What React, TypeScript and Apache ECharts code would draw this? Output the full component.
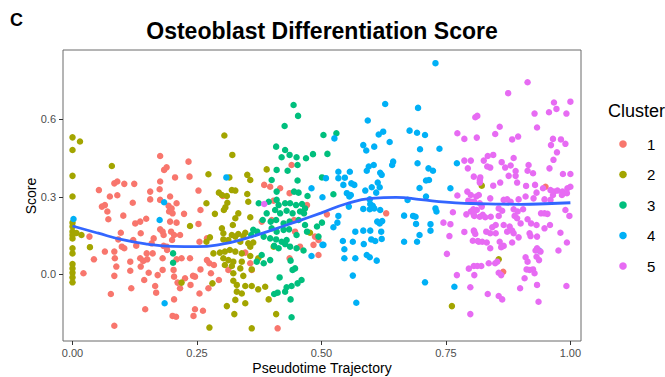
import React, { useEffect, useRef } from "react";
import * as echarts from "echarts";

// Cluster identities and the ggplot-style hue palette used for them
const clusterNames = ["1", "2", "3", "4", "5"];
const clusterColors = ["#F8766D", "#A3A500", "#00BF7D", "#00B0F6", "#E76BF3"];

// [pseudotime, score] per cell, grouped by cluster
const cluster1 = [
  [0.022, 0.004], [0.034, 0.146], [0.043, 0.058], [0.053, 0.326], [0.059, 0.262], [0.065, 0.268],
  [0.07, 0.243], [0.072, 0.213], [0.075, 0.301], [0.065, 0.088], [0.077, -0.076], [0.084, 0.352],
  [0.09, 0.359], [0.09, 0.306], [0.084, 0.088], [0.085, 0.062], [0.088, 0.03], [0.084, -0.006],
  [0.084, -0.199], [0.097, 0.161], [0.092, 0.135], [0.099, 0.107], [0.104, 0.35], [0.104, 0.101],
  [0.102, 0.227], [0.116, 0.049], [0.116, 0.014], [0.118, -0.054], [0.124, 0.35], [0.121, 0.277],
  [0.126, 0.197], [0.122, 0.133], [0.128, 0.111], [0.136, 0.204], [0.137, 0.159], [0.136, 0.062],
  [0.137, 0.03], [0.142, 0.052], [0.144, -0.022], [0.146, -0.135], [0.148, 0.215], [0.149, 0.081],
  [0.15, 0.058], [0.156, 0.32], [0.156, 0.29], [0.153, 0.006], [0.159, 0.12], [0.163, 0.139],
  [0.161, 0.081], [0.166, -0.045], [0.168, -0.071], [0.171, -0.003], [0.176, 0.458], [0.176, 0.359],
  [0.175, 0.329], [0.176, 0.288], [0.176, 0.174], [0.181, 0.165], [0.183, 0.152], [0.183, 0.11],
  [0.181, 0.062], [0.181, 0.017], [0.184, 0.404], [0.189, 0.414], [0.189, 0.107], [0.19, 0.094],
  [0.193, 0.265], [0.194, 0.243], [0.196, 0.204], [0.198, 0.165], [0.2, 0.133], [0.201, 0.236],
  [0.204, 0.152], [0.206, 0.375], [0.203, 0.017], [0.204, -0.009], [0.204, -0.097], [0.201, -0.161],
  [0.208, -0.164], [0.209, 0.2], [0.209, 0.058], [0.211, -0.032], [0.209, 0.275], [0.196, 0.301],
  [0.199, 0.255], [0.216, 0.152], [0.224, 0.234], [0.219, 0.062], [0.216, -0.054], [0.226, -0.015],
  [0.233, 0.436], [0.235, 0.378], [0.236, 0.062], [0.237, -0.041], [0.242, -0.006], [0.246, -0.009],
  [0.243, -0.161], [0.246, -0.135], [0.253, 0.324], [0.253, 0.195], [0.257, 0.249], [0.255, 0.126],
  [0.257, 0.019], [0.255, -0.074], [0.262, -0.141], [0.27, 0.139], [0.27, 0.055], [0.275, 0.043],
  [0.273, -0.054], [0.278, 0.004], [0.284, 0.036], [0.294, -0.022], [0.302, 0.303], [0.313, 0.017],
  [0.347, 0.084], [0.357, 0.043], [0.36, 0.017], [0.385, 0.346], [0.38, 0.204], [0.397, 0.339],
  [0.4, 0.21], [0.404, 0.285], [0.417, 0.333], [0.436, 0.314], [0.44, 0.423], [0.445, 0.21],
  [0.447, 0.165], [0.457, 0.107], [0.436, 0.062], [0.412, -0.209], [0.471, 0.268], [0.484, 0.114],
  [0.487, 0.146], [0.494, 0.075], [0.494, 0.133], [0.511, 0.232], [0.63, 0.236], [0.95, 0.339],
  [0.865, 0.01],
];

const cluster2 = [
  [0, 0.53], [0, 0.481], [0, 0.381], [0, 0.301], [0, 0.2], [0, 0.185], [0, 0.165], [0, 0.152],
  [0, 0.139], [0, 0.101], [0, 0.081], [0, 0.04], [0, 0.023], [0, 0.006], [0, -0.012], [0, -0.031],
  [0.015, 0.514], [0.079, 0.419], [0.018, 0.152], [0.035, 0.105], [0.008, 0.16],
  [0.305, 0.537], [0.321, 0.462], [0.273, 0.387], [0.315, 0.375], [0.351, 0.385], [0.357, 0.365],
  [0.39, 0.406], [0.294, 0.316], [0.3, 0.307], [0.32, 0.326], [0.327, 0.324], [0.31, 0.303],
  [0.311, 0.277], [0.307, 0.259], [0.304, 0.249], [0.269, 0.275], [0.351, 0.311], [0.353, 0.281],
  [0.333, 0.236], [0.286, 0.234], [0.327, 0.217], [0.357, 0.221], [0.236, 0.187], [0.3, 0.178],
  [0.322, 0.191], [0.303, 0.159], [0.32, 0.152], [0.327, 0.146], [0.333, 0.156], [0.343, 0.148],
  [0.347, 0.161], [0.276, 0.143], [0.269, 0.126], [0.303, 0.135], [0.313, 0.133], [0.337, 0.126],
  [0.353, 0.12], [0.363, 0.123], [0.283, 0.081], [0.296, 0.084], [0.306, 0.088], [0.316, 0.094],
  [0.327, 0.088], [0.34, 0.081], [0.357, 0.107], [0.303, 0.062], [0.313, 0.055], [0.323, 0.049],
  [0.34, 0.049], [0.357, 0.071], [0.306, 0.036], [0.32, 0.032], [0.337, 0.023], [0.36, 0.019],
  [0.323, 0.004], [0.343, -0.006], [0.219, -0.032], [0.281, -0.035], [0.323, -0.025], [0.33, -0.041],
  [0.347, -0.045], [0.36, -0.045], [0.373, -0.058], [0.387, -0.048], [0.33, -0.067], [0.34, -0.074],
  [0.327, -0.099], [0.347, -0.112], [0.31, -0.123], [0.325, -0.154], [0.275, -0.206], [0.36, -0.209],
  [0.394, -0.097], [0.409, -0.154], [0.404, 0.107], [0.373, 0.062], [0.477, 0.161], [0.762, -0.123],
  [0.822, 0.343], [0.856, 0.058],
];

const cluster3 = [
  [0.202, 0.081], [0.202, 0.045], [0.444, 0.655], [0.453, 0.613], [0.426, 0.574], [0.504, 0.539],
  [0.512, 0.466], [0.409, 0.494], [0.427, 0.481], [0.436, 0.462], [0.42, 0.453], [0.45, 0.453],
  [0.469, 0.449], [0.483, 0.465], [0.452, 0.423], [0.41, 0.404], [0.432, 0.401], [0.4, 0.365],
  [0.452, 0.363], [0.501, 0.375], [0.445, 0.32], [0.454, 0.316], [0.41, 0.32], [0.472, 0.303],
  [0.374, 0.275], [0.394, 0.281], [0.41, 0.288], [0.414, 0.268], [0.427, 0.275], [0.437, 0.275],
  [0.449, 0.268], [0.461, 0.272], [0.467, 0.255], [0.39, 0.236], [0.407, 0.249], [0.417, 0.236],
  [0.43, 0.246], [0.442, 0.236], [0.457, 0.243], [0.465, 0.236], [0.382, 0.21], [0.398, 0.204],
  [0.409, 0.21], [0.424, 0.197], [0.436, 0.204], [0.454, 0.21], [0.467, 0.191], [0.491, 0.185],
  [0.363, 0.172], [0.371, 0.165], [0.359, 0.152], [0.4, 0.178], [0.41, 0.165], [0.424, 0.172],
  [0.435, 0.174], [0.471, 0.165], [0.384, 0.146], [0.397, 0.139], [0.409, 0.135], [0.42, 0.126],
  [0.43, 0.133], [0.45, 0.152], [0.405, 0.11], [0.414, 0.101], [0.427, 0.117], [0.437, 0.107],
  [0.45, 0.101], [0.464, 0.092], [0.494, 0.146], [0.38, 0.075], [0.397, 0.055], [0.37, 0.049],
  [0.384, 0.043], [0.438, 0.053], [0.447, 0.023], [0.442, 0.017], [0.416, -0.012], [0.46, -0.022],
  [0.452, -0.035], [0.44, -0.045], [0.43, -0.05], [0.427, -0.067], [0.412, -0.071], [0.405, -0.076],
  [0.438, -0.097], [0.44, -0.166], [0.53, 0.546], [0.524, 0.31], [0.501, 0.2],
];

const cluster4 = [
  [0.002, 0.214], [0.175, 0.21], [0.184, 0.279], [0.185, -0.112], [0.309, 0.375], [0.48, 0.333],
  [0.502, 0.298], [0.509, 0.372], [0.502, 0.114], [0.48, 0.071],
  [0.729, 0.817], [0.628, 0.659], [0.694, 0.644], [0.593, 0.595], [0.677, 0.556], [0.692, 0.548],
  [0.708, 0.539], [0.615, 0.541], [0.624, 0.552], [0.526, 0.526], [0.637, 0.512], [0.584, 0.5],
  [0.606, 0.494], [0.59, 0.479], [0.698, 0.484], [0.737, 0.486], [0.644, 0.436], [0.642, 0.423],
  [0.693, 0.43], [0.595, 0.417], [0.605, 0.423], [0.591, 0.401], [0.715, 0.41], [0.724, 0.401],
  [0.772, 0.43], [0.534, 0.397], [0.557, 0.397], [0.618, 0.393], [0.621, 0.385], [0.534, 0.372],
  [0.547, 0.374], [0.544, 0.346], [0.56, 0.352], [0.566, 0.346], [0.613, 0.355], [0.617, 0.337],
  [0.71, 0.363], [0.716, 0.365], [0.697, 0.334], [0.759, 0.333], [0.588, 0.324], [0.601, 0.337],
  [0.61, 0.316], [0.551, 0.314], [0.559, 0.307], [0.556, 0.301], [0.597, 0.29], [0.598, 0.272],
  [0.603, 0.265], [0.673, 0.288], [0.71, 0.301], [0.555, 0.262], [0.584, 0.253], [0.597, 0.252],
  [0.606, 0.255], [0.618, 0.249], [0.534, 0.226], [0.729, 0.255], [0.731, 0.243], [0.666, 0.227],
  [0.684, 0.226], [0.689, 0.223], [0.532, 0.2], [0.524, 0.182], [0.612, 0.204], [0.617, 0.197],
  [0.622, 0.206], [0.69, 0.195], [0.719, 0.194], [0.568, 0.165], [0.584, 0.169], [0.598, 0.169],
  [0.62, 0.165], [0.719, 0.169], [0.697, 0.152], [0.543, 0.129], [0.563, 0.126], [0.585, 0.117],
  [0.6, 0.135], [0.608, 0.129], [0.621, 0.137], [0.666, 0.126], [0.692, 0.126], [0.504, 0.114],
  [0.546, 0.097], [0.591, 0.075], [0.597, 0.066], [0.568, 0.062], [0.546, 0.062], [0.611, 0.053],
  [0.563, -0.005], [0.708, -0.031], [0.57, -0.11], [0.767, -0.048], [0.937, 0.092],
];

const cluster5 = [
  [0.385, 0.272],
  [0.773, 0.546], [0.787, 0.524], [0.809, 0.608], [0.813, 0.613], [0.812, 0.529], [0.787, 0.44],
  [0.8, 0.44], [0.794, 0.41], [0.806, 0.378], [0.818, 0.365], [0.793, 0.32], [0.773, 0.305],
  [0.8, 0.307], [0.811, 0.301], [0.795, 0.285], [0.807, 0.281], [0.818, 0.275], [0.764, 0.24],
  [0.791, 0.232], [0.8, 0.243], [0.807, 0.226], [0.812, 0.249], [0.818, 0.223], [0.745, 0.2],
  [0.759, 0.194], [0.757, 0.148], [0.787, 0.164], [0.806, 0.169], [0.809, 0.156], [0.804, 0.13],
  [0.814, 0.129], [0.752, 0.079], [0.796, 0.022], [0.807, -0.003], [0.772, -0.003], [0.799, -0.05],
  [0.799, -0.154],
  [0.914, 0.743], [0.875, 0.701], [0.967, 0.665], [1.0, 0.668], [0.972, 0.64], [0.957, 0.627],
  [0.928, 0.622], [0.992, 0.622], [0.858, 0.571], [0.849, 0.543], [0.933, 0.568], [0.883, 0.522],
  [0.895, 0.533], [0.965, 0.524], [0.981, 0.522], [0.961, 0.5], [0.99, 0.505], [0.973, 0.472],
  [0.834, 0.458], [0.845, 0.462], [0.886, 0.45], [0.826, 0.44], [0.833, 0.417], [0.839, 0.413],
  [0.862, 0.434], [0.869, 0.413], [0.88, 0.421], [0.916, 0.423], [0.966, 0.443], [0.89, 0.4],
  [0.876, 0.381], [0.89, 0.381], [0.914, 0.401], [0.925, 0.391], [0.958, 0.41], [0.985, 0.388],
  [1.0, 0.388], [0.819, 0.375], [0.845, 0.343], [0.859, 0.355], [0.893, 0.355], [0.911, 0.342],
  [0.929, 0.346], [0.945, 0.333], [0.96, 0.326], [0.967, 0.32], [0.974, 0.324], [0.984, 0.32],
  [1.0, 0.339], [0.994, 0.333], [0.818, 0.355], [0.816, 0.307], [0.839, 0.294], [0.866, 0.288],
  [0.873, 0.29], [0.88, 0.281], [0.896, 0.29], [0.91, 0.301], [0.932, 0.316], [0.926, 0.294],
  [0.948, 0.29], [0.96, 0.288], [0.965, 0.307], [0.983, 0.307], [0.993, 0.314], [0.802, 0.281],
  [0.805, 0.252], [0.822, 0.262], [0.856, 0.255], [0.863, 0.246], [0.886, 0.252], [0.894, 0.243],
  [0.905, 0.252], [0.941, 0.236], [0.948, 0.236], [0.954, 0.234], [0.99, 0.249], [0.998, 0.226],
  [0.806, 0.23], [0.824, 0.23], [0.829, 0.221], [0.84, 0.223], [0.856, 0.226], [0.888, 0.226],
  [0.893, 0.217], [0.914, 0.213], [0.921, 0.197], [0.932, 0.191], [0.948, 0.178], [0.959, 0.191],
  [0.85, 0.191], [0.843, 0.182], [0.866, 0.191], [0.878, 0.185], [0.9, 0.197], [0.831, 0.165],
  [0.839, 0.159], [0.85, 0.159], [0.873, 0.165], [0.883, 0.169], [0.918, 0.159], [0.886, 0.159],
  [0.807, 0.165], [0.92, 0.148], [0.933, 0.146], [0.896, 0.143], [0.98, 0.161], [0.816, 0.126],
  [0.823, 0.126], [0.832, 0.123], [0.858, 0.126], [0.861, 0.105], [0.883, 0.123], [0.866, 0.11],
  [0.839, 0.101], [0.933, 0.101], [0.94, 0.088], [0.93, 0.092], [0.993, 0.123], [0.976, 0.092],
  [0.91, 0.066], [0.932, 0.068], [0.937, 0.055], [0.914, 0.049], [0.836, 0.043], [0.849, 0.043],
  [0.853, 0.049], [0.806, 0.032], [0.813, 0.032], [0.821, 0.032], [0.856, 0.006], [0.861, -0.003],
  [0.912, 0.019], [0.918, 0.017], [0.925, 0.019], [0.928, 0.004], [0.908, -0.015], [0.933, -0.041],
  [0.899, -0.054], [0.992, -0.045], [0.834, -0.076], [0.856, -0.084], [0.863, -0.097], [0.936, -0.106],
];

const clusterPoints = [cluster1, cluster2, cluster3, cluster4, cluster5];

// Smoothed trend of score along pseudotime
const trendX = [0, 0.05, 0.1, 0.15, 0.2, 0.25, 0.3, 0.35, 0.4, 0.45, 0.5, 0.55, 0.6, 0.65, 0.7, 0.75, 0.8, 0.85, 0.9, 0.95, 1.0];
const trendY = [0.187, 0.16, 0.134, 0.117, 0.108, 0.107, 0.117, 0.14, 0.171, 0.204, 0.238, 0.273, 0.294, 0.298, 0.289, 0.279, 0.274, 0.272, 0.271, 0.273, 0.277];

const xTickValues = [0, 0.25, 0.5, 0.75, 1];
const yTickValues = [0, 0.3, 0.6];

const FONT = "'Liberation Sans', Arial, Helvetica, sans-serif";

export default function App() {
  const ref = useRef<HTMLDivElement>(null);

  useEffect(() => {
    if (!ref.current) return;
    const chart = echarts.init(ref.current, undefined, { renderer: "svg" });

    const scatterSeries = clusterPoints.map((pts, i) => ({
      name: clusterNames[i],
      type: "scatter",
      data: pts,
      symbol: "circle",
      symbolSize: 6.5,
      itemStyle: { color: clusterColors[i], opacity: 1 },
      emphasis: { disabled: true },
      z: 2,
    }));

    const legendGraphics: any[] = [
      {
        type: "text",
        x: 608,
        y: 111,
        style: { text: "Cluster", font: `18px ${FONT}`, fill: "#000", verticalAlign: "middle" },
      },
    ];
    clusterNames.forEach((name, i) => {
      const cy = 144 + i * 30.5;
      legendGraphics.push({
        type: "circle",
        shape: { cx: 623, cy, r: 3.8 },
        style: { fill: clusterColors[i] },
      });
      legendGraphics.push({
        type: "text",
        x: 647,
        y: cy,
        style: { text: name, font: `15px ${FONT}`, fill: "#000", verticalAlign: "middle", align: "left" },
      });
    });

    chart.setOption({
      animation: false,
      backgroundColor: "#ffffff",
      grid: {
        left: 63,
        right: 84,
        top: 50,
        bottom: 36,
        show: true,
        borderColor: "#6b6b6b",
        borderWidth: 1,
        backgroundColor: "transparent",
      },
      xAxis: {
        type: "value",
        min: -0.0191,
        max: 1.0213,
        axisLine: { show: false, onZero: false },
        axisTick: {
          show: true,
          customValues: xTickValues,
          length: 4,
          lineStyle: { color: "#333333" },
        },
        axisLabel: {
          customValues: xTickValues,
          formatter: (v: number) => v.toFixed(2),
          color: "#4d4d4d",
          fontSize: 11,
          fontFamily: FONT,
          margin: 6,
        },
        splitLine: { show: false },
      },
      yAxis: {
        type: "value",
        min: -0.258,
        max: 0.868,
        axisLine: { show: false, onZero: false },
        axisTick: {
          show: true,
          customValues: yTickValues,
          length: 4,
          lineStyle: { color: "#333333" },
        },
        axisLabel: {
          customValues: yTickValues,
          formatter: (v: number) => v.toFixed(1),
          color: "#4d4d4d",
          fontSize: 11,
          fontFamily: FONT,
          margin: 7,
        },
        splitLine: { show: false },
      },
      series: [
        ...scatterSeries,
        {
          name: "trend",
          type: "line",
          data: trendX.map((x, i) => [x, trendY[i]]),
          smooth: true,
          showSymbol: false,
          symbol: "none",
          lineStyle: { color: "#3366FF", width: 2.8 },
          emphasis: { disabled: true },
          z: 5,
        },
      ],
      graphic: [
        {
          type: "text",
          x: 10,
          y: 19.5,
          style: { text: "C", font: `bold 18px ${FONT}`, fill: "#000", verticalAlign: "middle" },
        },
        {
          type: "text",
          x: 322,
          y: 31,
          style: {
            text: "Osteoblast Differentiation Score",
            font: `bold 23px ${FONT}`,
            fill: "#000",
            align: "center",
            verticalAlign: "middle",
          },
        },
        {
          type: "text",
          x: 322,
          y: 368,
          style: {
            text: "Pseudotime Trajectory",
            font: `14px ${FONT}`,
            fill: "#000",
            align: "center",
            verticalAlign: "middle",
          },
        },
        {
          type: "text",
          x: 30.5,
          y: 196,
          rotation: Math.PI / 2,
          style: {
            text: "Score",
            font: `14px ${FONT}`,
            fill: "#000",
            align: "center",
            verticalAlign: "middle",
          },
        },
        ...legendGraphics,
      ],
    });

    return () => {
      chart.dispose();
    };
  }, []);

  return (
    <div
      ref={ref}
      style={{ position: "fixed", left: 0, top: 0, width: 665, height: 377, background: "#fff" }}
    />
  );
}
